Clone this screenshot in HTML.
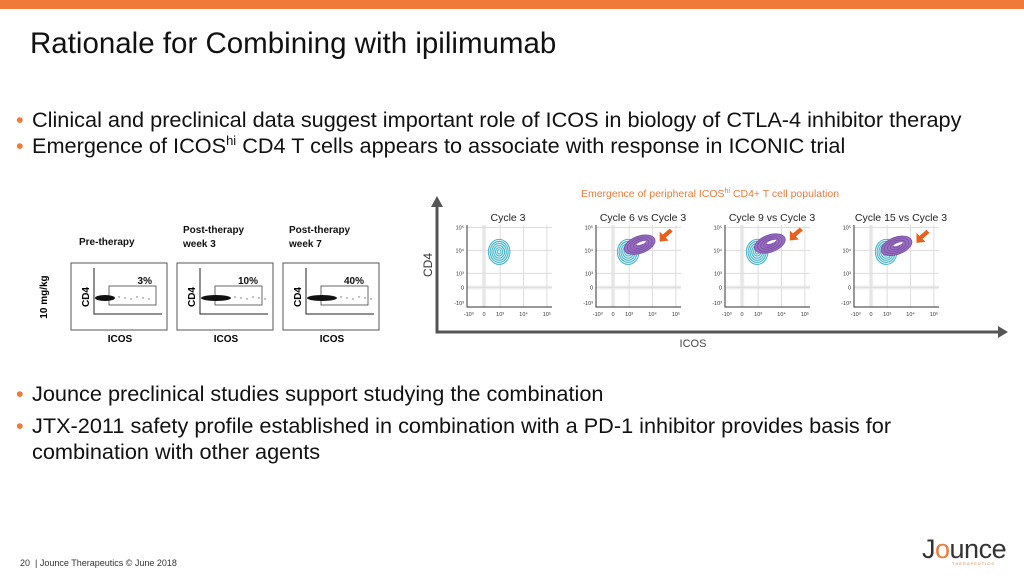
<!DOCTYPE html>
<html><head><meta charset="utf-8"><style>
body{margin:0;width:1024px;height:576px;overflow:hidden;background:#fff;font-family:"Liberation Sans",sans-serif;position:relative}
.abs{position:absolute}
.b{position:absolute;left:32px;font-size:21.7px;color:#111;white-space:nowrap;line-height:26px}
.b:before{content:"•";color:#f07a3a;position:absolute;left:-16px}
</style></head><body>
<div class="abs" style="left:0;top:0;width:1024px;height:9px;background:#f07a3a"></div>
<div class="abs" style="left:30px;top:27px;font-size:29.5px;color:#111">Rationale for Combining with ipilimumab</div>
<div class="b" style="top:107px">Clinical and preclinical data suggest important role of ICOS in biology of CTLA-4 inhibitor therapy</div>
<div class="b" style="top:133px">Emergence of ICOS<sup style="font-size:13px;line-height:0">hi</sup> CD4 T cells appears to associate with response in ICONIC trial</div>
<div class="b" style="top:381px">Jounce preclinical studies support studying the combination</div>
<div class="b" style="top:413px">JTX-2011 safety profile established in combination with a PD-1 inhibitor provides basis for<br>combination with other agents</div>
<div class="abs" style="left:20px;top:558px;font-size:9px;color:#333">20 &nbsp;| Jounce Therapeutics © June 2018</div>
<div class="abs" style="left:922px;top:534px;font-size:27px;color:#333;letter-spacing:-0.5px">J<span style="color:#f07a3a">o</span>unce<div style="font-size:4px;color:#f07a3a;letter-spacing:1px;margin-left:30px;margin-top:-4px">THERAPEUTICS</div></div>
<svg id="fig" class="abs" style="left:0;top:0" width="1024" height="576"></svg>
<script>
const leftTitles=[["Pre-therapy"],["Post-therapy","week 3"],["Post-therapy","week 7"]];
const leftPct=["3%","10%","40%"];
const panelTitles=["Cycle 3","Cycle 6 vs Cycle 3","Cycle 9 vs Cycle 3","Cycle 15 vs Cycle 3"];
const baseCenter=[3.0,3.98];
const shiftX=[0,3.45,3.5,3.4];
const shiftY=[0,4.25,4.3,4.2];
const xTickVals=[-3,0,3,4,5];
const yTickVals=[5,4,3,0,-3];
const xTicks=["-10³","0","10³","10⁴","10⁵"];
const yTicks=["10⁵","10⁴","10³","0","-10³"];
const NS="http://www.w3.org/2000/svg";
const svg=document.getElementById('fig');
function el(t,a,txt){const e=document.createElementNS(NS,t);for(const k in a)e.setAttribute(k,a[k]);if(txt!==undefined)e.textContent=txt;svg.appendChild(e);return e;}
function fx(v){ if(v>=3) return 0.39+(v-3)*0.275; if(v>=0) return 0.2+v/3*0.19; return 0.2+v/3*0.18; }
function fy(v){ if(v>=3) return 0.59-(v-3)*0.28; if(v>=0) return 0.76-v/3*0.17; return 0.76-v/3*0.19; }
leftTitles.forEach((t,i)=>{
 const x0=73+i*106;
 t.forEach((l,j)=>{const e=el('text',{x:x0+(t.length==1?6:4),y:(t.length==1?245:233)+j*14,'font-size':10,'font-weight':'bold',fill:'#111'},l);});
 const f=el('rect',{x:x0-2,y:263,width:96,height:67,fill:'none',stroke:'#555','stroke-width':1});
 el('polyline',{points:`${x0+21},268 ${x0+21},314 ${x0+89},314`,fill:'none',stroke:'#222'});
 el('rect',{x:x0+36,y:286,width:47,height:19,fill:'none',stroke:'#444','stroke-width':0.8});
 const p=el('text',{x:x0+79,y:284,'font-size':10,'font-weight':'bold','text-anchor':'end',fill:'#111'},leftPct[i]);
 const w=[20,30,30][i];
 el('ellipse',{cx:x0+22+w/2,cy:298,rx:w/2,ry:3,fill:'#111'});
 for(let k=0;k<6;k++)el('circle',{cx:x0+26+w+k*6,cy:297+(k%3),r:0.7,fill:'#666'});
 el('text',{x:x0+16,y:297,'font-size':10,'font-weight':'bold',transform:`rotate(-90 ${x0+16} 297)`,'text-anchor':'middle'},'CD4');
 el('text',{x:x0+47,y:342,'font-size':10,'font-weight':'bold','text-anchor':'middle'},'ICOS');
});
el('text',{x:47,y:297,'font-size':10,'font-weight':'bold',transform:'rotate(-90 47 297)','text-anchor':'middle'},'10 mg/kg');
const st=el('text',{x:710,y:197,'font-size':10.5,fill:'#f07a3a','text-anchor':'middle'},'Emergence of peripheral ICOS');
const ts=document.createElementNS(NS,'tspan');ts.setAttribute('font-size',7);ts.setAttribute('dy',-4);ts.textContent='hi';st.appendChild(ts);
const ts2=document.createElementNS(NS,'tspan');ts2.setAttribute('dy',4);ts2.textContent=' CD4+ T cell population';st.appendChild(ts2);
el('polyline',{points:'437,205 437,332 1000,332',fill:'none',stroke:'#555','stroke-width':3});
el('polygon',{points:'431,207 443,207 437,196',fill:'#555'});
el('polygon',{points:'998,326 998,338 1008,332',fill:'#555'});
el('text',{x:432,y:265,'font-size':12,fill:'#333',transform:'rotate(-90 432 265)','text-anchor':'middle'},'CD4');
el('text',{x:693,y:347,'font-size':11,fill:'#444','text-anchor':'middle'},'ICOS');
panelTitles.forEach((t,i)=>{
 const L=467+i*129,T=225,W=85,H=82;
 const X=v=>L+fx(v)*W, Y=v=>T+fy(v)*H;
 const tt=el('text',{x:L+(i==0?41:47),y:221,'font-size':10.5,fill:'#222','text-anchor':'middle'},t);
 el('rect',{x:X(-0.4),y:T,width:X(0.4)-X(-0.4),height:H,fill:'#eee'});
 el('rect',{x:L,y:Y(0.4),width:W,height:Y(-0.4)-Y(0.4),fill:'#eee'});
 xTickVals.slice(1).forEach(v=>el('line',{x1:X(v),x2:X(v),y1:T,y2:T+H,stroke:'#ddd','stroke-width':1}));
 yTickVals.slice(0,4).forEach(v=>el('line',{x1:L,x2:L+W,y1:Y(v),y2:Y(v),stroke:'#ddd','stroke-width':1}));
 el('polyline',{points:`${L},${T} ${L},${T+H} ${L+W},${T+H}`,fill:'none',stroke:'#333'});
 yTicks.forEach((s,k)=>el('text',{x:L-3,y:Y(yTickVals[k])+2,'font-size':5.5,'text-anchor':'end',fill:'#333'},s));
 xTicks.forEach((s,k)=>el('text',{x:X(xTickVals[k]),y:T+H+9,'font-size':5.5,'text-anchor':'middle',fill:'#333'},s));
 const bx=X(baseCenter[0]),by=Y(baseCenter[1]);
 for(let r=6;r>=1;r--)el('ellipse',{cx:bx-1,cy:by+1,rx:r*1.8,ry:r*2.1,fill:r==6?'#d8f0f5':'none',stroke:'#3ab0c8','stroke-width':0.9});
 if(i>0){
  const cx=X(shiftX[i]),cy=Y(shiftY[i]);
  for(let r=5;r>=1;r--)el('ellipse',{cx:cx,cy:cy,rx:r*3.2,ry:r*1.7,fill:r==5?'#9a70c0':'none',stroke:'#7a4fa8','stroke-width':0.9,transform:`rotate(-20 ${cx} ${cy})`});
  el('ellipse',{cx:cx+2,cy:cy-1,rx:5,ry:1.3,fill:'#fff',transform:`rotate(-20 ${cx} ${cy})`});
  const ax=cx+20,ay=cy-3;
  const a=el('polygon',{points:`${ax},${ay} ${ax+9},${ay-1} ${ax+6},${ay-4} ${ax+13},${ay-10} ${ax+10},${ay-13} ${ax+3},${ay-7} ${ax},${ay-10}`,fill:'#e8601c'});
 }
});
</script>
</body></html>
